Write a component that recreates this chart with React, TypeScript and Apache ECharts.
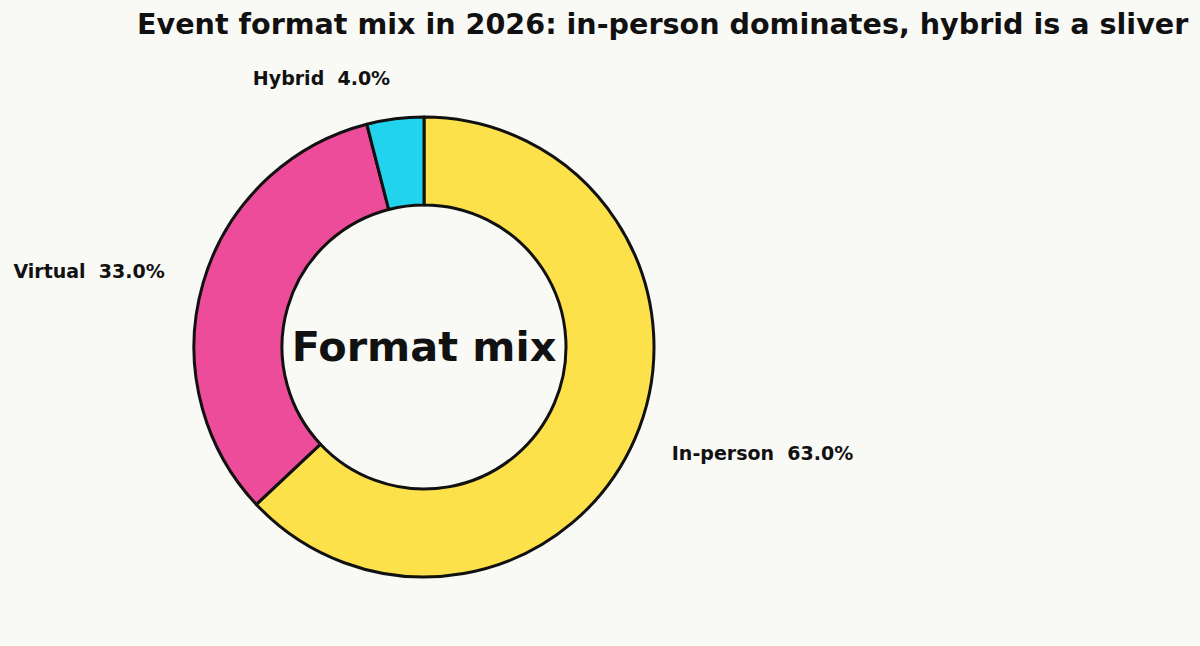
import React, { useEffect, useRef } from "react";
import * as echarts from "echarts";

const categories = ["In-person", "Virtual", "Hybrid"];
const shares = [63.0, 33.0, 4.0];
const colors = ["#FCE14B", "#EC4C9A", "#22D3EE"];
const titleText = "Event format mix in 2026: in-person dominates, hybrid is a sliver";
const centerText = "Format mix";

const FONT = "'DejaVu Sans', sans-serif";
const CX = 424;
const CY = 347;
const R_OUT = 230;
const R_IN = 142;
const LABEL_R = 270;

export default function App() {
  const ref = useRef<HTMLDivElement>(null);
  useEffect(() => {
    if (!ref.current) return;
    const chart = echarts.init(ref.current, undefined, { renderer: "svg" });
    const total = shares.reduce((a, b) => a + b, 0);
    const mids: number[] = [];
    let acc = 0;
    shares.forEach((v) => {
      const mid = 90 - ((acc + v / 2) / total) * 360;
      mids.push((mid * Math.PI) / 180);
      acc += v;
    });
    chart.setOption({
      animation: false,
      backgroundColor: "#F9F9F6",
      title: {
        text: titleText,
        left: 137,
        top: 9,
        padding: 0,
        textStyle: { fontFamily: FONT, fontSize: 28.6, fontWeight: "bold", color: "#111111" },
      },
      graphic: [
        {
          type: "text",
          x: CX,
          y: CY,
          z: 10,
          style: {
            text: centerText,
            align: "center",
            verticalAlign: "middle",
            font: `bold 41.4px ${FONT}`,
            fill: "#111111",
          },
        },
      ],
      series: [
        {
          type: "pie",
          center: [CX, CY],
          radius: [R_IN, R_OUT],
          startAngle: 90,
          clockwise: true,
          avoidLabelOverlap: false,
          data: categories.map((c, i) => ({
            name: c,
            value: shares[i],
            itemStyle: { color: colors[i] },
          })),
          itemStyle: { borderColor: "#111111", borderWidth: 3 },
          label: {
            show: true,
            position: "outside",
            formatter: (p: any) => `${p.name}  ${p.value.toFixed(1)}%`,
            fontFamily: FONT,
            fontSize: 19,
            fontWeight: "bold",
            color: "#111111",
          },
          labelLine: { show: false },
          emphasis: { disabled: true },
          labelLayout: (params: any) => {
            const a = mids[params.dataIndex];
            const x = CX + LABEL_R * Math.cos(a);
            const y = CY - LABEL_R * Math.sin(a) - 1;
            return {
              x,
              y,
              align: Math.cos(a) >= 0 ? "left" : "right",
              verticalAlign: "middle",
            };
          },
        },
      ],
    });
    return () => chart.dispose();
  }, []);
  return (
    <div
      ref={ref}
      style={{ position: "fixed", left: 0, top: 0, width: 1200, height: 646 }}
    />
  );
}
